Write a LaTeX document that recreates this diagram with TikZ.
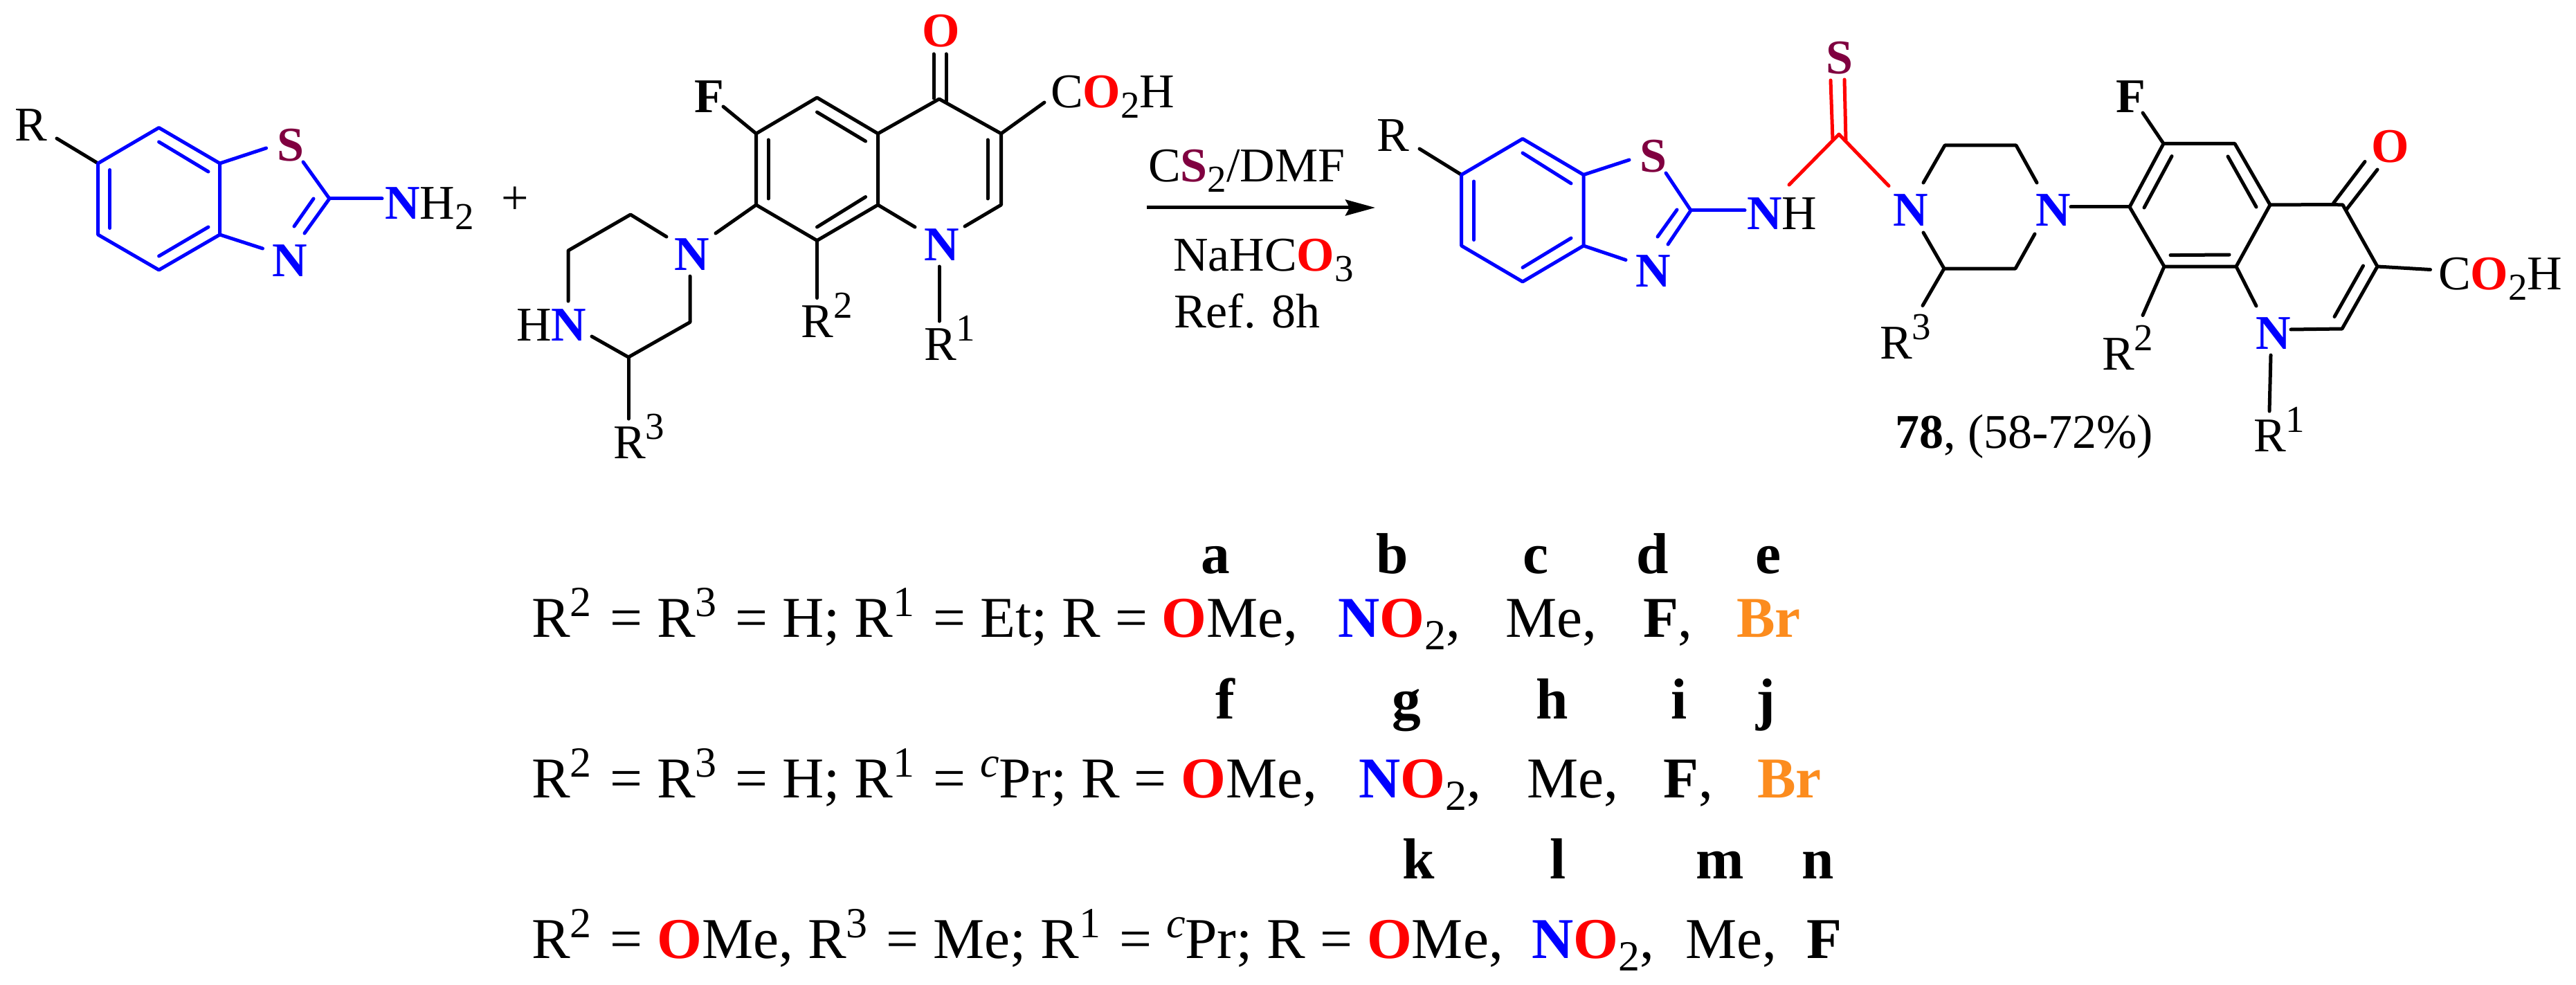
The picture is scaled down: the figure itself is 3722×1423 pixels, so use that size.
\documentclass[tikz,border=0pt]{standalone}
\usepackage{fontspec}
\setmainfont{Liberation Serif}
\usetikzlibrary{arrows.meta}
\definecolor{nblue}{RGB}{0,0,255}
\definecolor{ored}{RGB}{255,0,0}
\definecolor{spurple}{RGB}{128,0,64}
\definecolor{brorange}{RGB}{252,140,30}
\newcommand\atomN{\textcolor{nblue}{\textbf{N}}}
\newcommand\atomO{\textcolor{ored}{\textbf{O}}}
\newcommand\atomS{\textcolor{spurple}{\textbf{S}}}
\newcommand\topsup[1]{\raisebox{14pt}{\fontsize{27.5}{27.5}\selectfont #1}}
\newcommand\topsub[1]{\raisebox{-7.5pt}{\fontsize{27.5}{27.5}\selectfont #1}}
\newcommand\lowR[1]{R\raisebox{15pt}{\fontsize{31}{31}\selectfont #1}\kern3pt\relax}
\newcommand\lowsub[1]{\raisebox{-9pt}{\fontsize{31}{31}\selectfont #1}}
\newcommand\lowc{\raisebox{15pt}{\fontsize{31}{31}\selectfont\textit{c}}}
\tikzset{
  bond/.style={line width=2.5pt,line cap=round,line join=round,black},
  bbond/.style={bond,nblue},
  rbond/.style={bond,ored},
  toptxt/.style={inner sep=0pt,outer sep=0pt,anchor=base west,font=\fontsize{35}{35}\selectfont},
  lowtxt/.style={inner sep=0pt,outer sep=0pt,anchor=base west,font=\fontsize{41.7}{41.7}\selectfont},
  letter/.style={inner sep=0pt,outer sep=0pt,anchor=base,font=\fontsize{41.7}{41.7}\selectfont\bfseries}
}
\begin{document}
\begin{tikzpicture}[x=0.5pt,y=-0.5pt]
\useasboundingbox (0,0) rectangle (3722,1423);
\fill[white] (0,0) rectangle (3722,1423);
% ---- coordinates (vertices and free bond ends)
\foreach \n/\x/\y in {
 la/141.6/236, lb/229.6/184.5, lc/317.6/236, ld/317.6/339, le/229.6/390, lf/141.6/339,
 lr/82/200, lbi/229.6/205, lci/301/248, lai/158.8/245.5, lfi/158.8/329.5, ldi/301/328, lei/229.6/370,
 ls1/384.6/214, ls2/438/234, lt/476/287, ln1/440/337, lti/453/287, ln1i/425/327, ln2/379.5/359, lnh/552/287,
 pa/911/310, pb/821/362, pc/821/435, pd/855/486, pe/908/516, pf/997/465.5, pg/997/399, ph/963/342, pr/908/605,
 qa/1092.5/193, qb/1180.5/141, qc/1268.5/193, qd/1268.5/296, qe/1180.5/347.5, qf/1092.5/296,
 qbi/1180.5/162, qci/1250.6/204, qai/1110/202, qfi/1110/287, qdi/1250.6/284.5, qei/1180.5/328,
 qF/1045/154, qN/1034/337, qr2/1180.5/430.5, qn1/1322/328, qn2/1394/327, qg/1446.5/296, qh/1446.5/193,
 qgi/1427/287, qhi/1427/202, qt/1357/143, qo1a/1349/78, qo1b/1349/142, qo2a/1367/78, qo2b/1367/146,
 qco/1509/148, qr1a/1357/385, qr1b/1357/464,
 arL/1657/300, arR/1987/300,
 ma/2111.6/252.5, mb/2200/200.5, mc/2288/252.5, md/2288/355, me/2200/407, mf/2111.6/355,
 mr/2051/215, mbi/2200/221, mci/2270/265, mai/2129.5/262, mfi/2129.5/346.5, mdi/2270/344, mei/2200/386.5,
 ms1/2354/231, ms2/2407/250, mt/2443/304, mn1/2410/353, mti/2423/303, mn1i/2395/342, mn2/2349/375.5, mnh/2521/304,
 ta/2585/267, tb/2657/194, tc/2729/268.5, td1/2645/116, td2/2648/202, td3/2665/115, td4/2667/202,
 ua/2779/264, ub/2810/210, uc/2913/210, ud/2943/264, ue/2779/336, uf/2809/388, ug/2912/388, uh/2940/338, ur/2778/441.5,
 uN/2992/299,
 v1/3126/207.5, v2/3229/207.5, v3/3280/296, v4/3231/385, v5/3127/385, v6/3077/299,
 v1i/3138/225.6, v6i/3098/300, v2i/3219/226, v3i/3260/299, v5i/3136/368.6, v4i/3221/368,
 vF/3096/163, vr2/3096/455.5,
 w1/3370/295.5, w2/3385/296, w3/3435/385, w4/3384/475, wN/3310/476, wM/3260/442,
 w3i/3414.5/384, w4i/3373/457.5,
 wo1/3371.5/293.5, wo2/3417/233.5, wo3/3390/303, wo4/3435/245,
 wco/3511.5/389.5, wr1a/3281/513, wr1b/3279/594}
  {\coordinate (\n) at (\x,\y);}
% ---- bonds, reactant 1
\draw[bond] (lr) -- (la);
\draw[bbond] (la) -- (lb) -- (lc) -- (ld) -- (le) -- (lf) -- cycle;
\draw[bbond] (lbi) -- (lci);
\draw[bbond] (lai) -- (lfi);
\draw[bbond] (ldi) -- (lei);
\draw[bbond] (lc) -- (ls1);
\draw[bbond] (ls2) -- (lt) -- (ln1);
\draw[bbond] (lti) -- (ln1i);
\draw[bbond] (ld) -- (ln2);
\draw[bbond] (lt) -- (lnh);
% ---- bonds, reactant 2
\draw[bond] (pc) -- (pb) -- (pa) -- (ph);
\draw[bond] (pd) -- (pe) -- (pf) -- (pg);
\draw[bond] (pe) -- (pr);
\draw[bond] (qa) -- (qb) -- (qc) -- (qd) -- (qe) -- (qf) -- cycle;
\draw[bond] (qbi) -- (qci);
\draw[bond] (qai) -- (qfi);
\draw[bond] (qdi) -- (qei);
\draw[bond] (qF) -- (qa);
\draw[bond] (qf) -- (qN);
\draw[bond] (qe) -- (qr2);
\draw[bond] (qd) -- (qn1);
\draw[bond] (qn2) -- (qg) -- (qh) -- (qt) -- (qc);
\draw[bond] (qgi) -- (qhi);
\draw[bond] (qo1a) -- (qo1b);
\draw[bond] (qo2a) -- (qo2b);
\draw[bond] (qh) -- (qco);
\draw[bond] (qr1a) -- (qr1b);
% ---- arrow
\draw[line width=2.5pt,-{Stealth[length=21.5pt,width=11.5pt,inset=3pt]}] (arL) -- (arR);
% ---- bonds, product
\draw[bond] (mr) -- (ma);
\draw[bbond] (ma) -- (mb) -- (mc) -- (md) -- (me) -- (mf) -- cycle;
\draw[bbond] (mbi) -- (mci);
\draw[bbond] (mai) -- (mfi);
\draw[bbond] (mdi) -- (mei);
\draw[bbond] (mc) -- (ms1);
\draw[bbond] (ms2) -- (mt) -- (mn1);
\draw[bbond] (mti) -- (mn1i);
\draw[bbond] (md) -- (mn2);
\draw[bbond] (mt) -- (mnh);
\draw[rbond] (ta) -- (tb) -- (tc);
\draw[rbond] (td1) -- (td2);
\draw[rbond] (td3) -- (td4);
\draw[bond] (ua) -- (ub) -- (uc) -- (ud);
\draw[bond] (ue) -- (uf) -- (ug) -- (uh);
\draw[bond] (uf) -- (ur);
\draw[bond] (uN) -- (v6);
\draw[bond] (v1) -- (v2) -- (v3) -- (v4) -- (v5) -- (v6) -- cycle;
\draw[bond] (v1i) -- (v6i);
\draw[bond] (v2i) -- (v3i);
\draw[bond] (v5i) -- (v4i);
\draw[bond] (vF) -- (v1);
\draw[bond] (v5) -- (vr2);
\draw[bond] (v3) -- (w1) -- (w2) -- (w3) -- (w4) -- (wN);
\draw[bond] (v4) -- (wM);
\draw[bond] (w3i) -- (w4i);
\draw[bond] (wo1) -- (wo2);
\draw[bond] (wo3) -- (wo4);
\draw[bond] (w3) -- (wco);
\draw[bond] (wr1a) -- (wr1b);
% ---- labels, reactant 1
\node[toptxt] (tR1) at (21,204) {R};
\node[toptxt] (tS1) at (400,233) {\atomS};
\node[toptxt] (tN1) at (393,399) {\atomN};
\node[toptxt] (tNH2) at (556,317) {\atomN H\topsub{2}};
\node[toptxt] (tPlus) at (724,310) {+};
% ---- labels, reactant 2
\node[toptxt] (tHN) at (746,492.5) {H\atomN};
\node[toptxt] (tN2) at (974,390) {\atomN};
\node[toptxt] (tR3) at (886,662) {R\topsup{3}};
\node[toptxt] (tF1) at (1003,163) {\textbf{F}};
\node[toptxt] (tR2) at (1157.5,487.5) {R\topsup{2}};
\node[toptxt] (tN3) at (1335,376) {\atomN};
\node[toptxt] (tR11) at (1335,520) {R\topsup{1}};
\node[toptxt] (tO1) at (1332,68) {\atomO};
\node[toptxt] (tCO) at (1518,156) {C\atomO\topsub{2}H};
% ---- reagents
\node[toptxt] (tCS) at (1659,262.5) {C\atomS\topsub{2}/DMF};
\node[toptxt] (tNa) at (1695,391) {NaHC\atomO\topsub{3}};
\node[toptxt] (tRef) at (1696,473) {Ref. 8h};
% ---- labels, product
\node[toptxt] (pR) at (1989,219) {R};
\node[toptxt] (pS1) at (2369,249) {\atomS};
\node[toptxt] (pN1) at (2363.5,415) {\atomN};
\node[toptxt] (pNH) at (2524,332) {\atomN H};
\node[toptxt] (pS2) at (2638,106.5) {\atomS};
\node[toptxt] (pN2) at (2735,327) {\atomN};
\node[toptxt] (pN3) at (2941,327) {\atomN};
\node[toptxt] (pR3) at (2716,518) {R\topsup{3}};
\node[toptxt] (p78) at (2738,647) {\textbf{78}, (58-72\%)};
\node[toptxt] (pF) at (3057,163) {\textbf{F}};
\node[toptxt] (pO) at (3426,235) {\atomO};
\node[toptxt] (pCO) at (3523,418) {C\atomO\topsub{2}H};
\node[toptxt] (pN4) at (3259,504) {\atomN};
\node[toptxt] (pR2) at (3037,534) {R\topsup{2}};
\node[toptxt] (pR1) at (3256,652) {R\topsup{1}};
% ---- table, row 1
\node[letter] (la1) at (1756,828) {a};
\node[letter] (lb1) at (2012,828) {b};
\node[letter] (lc1) at (2218.5,828) {c};
\node[letter] (ld1) at (2387.5,828) {d};
\node[letter] (le1) at (2555,828) {e};
\node[lowtxt] (r1a) at (768,920) {\lowR{2} = \lowR{3} = H; \lowR{1} = Et; R = \atomO Me,};
\node[lowtxt] (r1b) at (1933,920) {\atomN\atomO\lowsub{2},};
\node[lowtxt] (r1c) at (2175,920) {Me,};
\node[lowtxt] (r1d) at (2374,920) {\textbf{F},};
\node[lowtxt] (r1e) at (2509,920) {\textcolor{brorange}{\textbf{Br}}};
% ---- table, row 2
\node[letter] (lf1) at (1770,1038) {f};
\node[letter] (lg1) at (2032,1038) {g};
\node[letter] (lh1) at (2243,1038) {h};
\node[letter] (li1) at (2426,1038) {i};
\node[letter] (lj1) at (2551.5,1038) {j};
\node[lowtxt] (r2a) at (768,1152) {\lowR{2} = \lowR{3} = H; \lowR{1} = \lowc Pr; R = \atomO Me,};
\node[lowtxt] (r2b) at (1963,1152) {\atomN\atomO\lowsub{2},};
\node[lowtxt] (r2c) at (2206,1152) {Me,};
\node[lowtxt] (r2d) at (2403.5,1152) {\textbf{F},};
\node[lowtxt] (r2e) at (2539,1152) {\textcolor{brorange}{\textbf{Br}}};
% ---- table, row 3
\node[letter] (lk1) at (2050,1269) {k};
\node[letter] (ll1) at (2251,1269) {l};
\node[letter] (lm1) at (2485,1269) {m};
\node[letter] (ln1t) at (2627,1269) {n};
\node[lowtxt] (r3a) at (768,1384) {\lowR{2} = \atomO Me, \lowR{3} = Me; \lowR{1} = \lowc Pr; R = \atomO Me,};
\node[lowtxt] (r3b) at (2213,1384) {\atomN\atomO\lowsub{2},};
\node[lowtxt] (r3c) at (2435,1384) {Me,};
\node[lowtxt] (r3d) at (2610,1384) {\textbf{F}};
\end{tikzpicture}
\end{document}
